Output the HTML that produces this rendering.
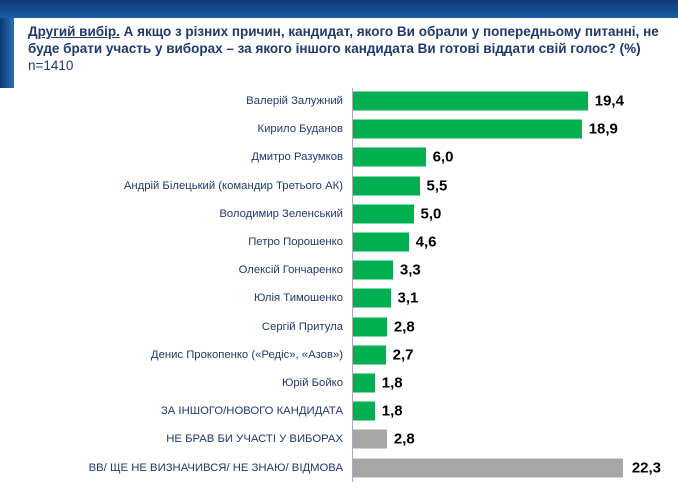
<html><head><style>
body{margin:0;width:678px;height:488px;background:#fff;overflow:hidden;position:relative;font-family:"Liberation Sans",sans-serif}
.top{position:absolute;left:0;top:0;width:678px;height:18px;background:linear-gradient(#0b3a73,#1a5da6)}
.side{position:absolute;left:0;top:18px;width:14px;height:70px;background:linear-gradient(90deg,#0b3a73,#2a6fb8)}
.t{position:absolute;left:28px;top:23px;font-size:13.5px;font-weight:bold;color:#1f3a6a;line-height:17px;width:645px}
.n{font-weight:normal}
.ax{position:absolute;left:352px;top:88px;width:1px;height:394px;background:#aab}
.lb{position:absolute;right:335px;font-size:11.3px;color:#1f3a6a;white-space:nowrap;transform:translateY(-50%)}
.b{position:absolute;left:353px;height:19px;transform:translateY(-50%)}
.v{position:absolute;font-size:15px;font-weight:bold;color:#000;transform:translateY(-50%)}
</style></head><body>
<div class="top"></div><div class="side"></div>
<div class="t"><u>Другий вибір.</u> А якщо з різних причин, кандидат, якого Ви обрали у попередньому питанні, не буде брати участь у виборах – за якого іншого кандидата Ви готові віддати свій голос? (%)<br><span class="n">n=1410</span></div>
<div class="ax"></div>
<div id="c"></div>
<script>
var d=[["Валерій Залужний",19.4,0],["Кирило Буданов",18.9,0],["Дмитро Разумков",6.0,0],["Андрій Білецький (командир Третього АК)",5.5,0],["Володимир Зеленський",5.0,0],["Петро Порошенко",4.6,0],["Олексій Гончаренко",3.3,0],["Юлія Тимошенко",3.1,0],["Сергій Притула",2.8,0],["Денис Прокопенко («Редіс», «Азов»)",2.7,0],["Юрій Бойко",1.8,0],["ЗА ІНШОГО/НОВОГО КАНДИДАТА",1.8,0],["НЕ БРАВ БИ УЧАСТІ У ВИБОРАХ",2.8,1],["ВВ/ ЩЕ НЕ ВИЗНАЧИВСЯ/ НЕ ЗНАЮ/ ВІДМОВА",22.3,1]];
var h="";d.forEach(function(r,i){var y=101+i*28.2,w=r[1]*12.1;
h+='<div class="lb" style="top:'+y+'px">'+r[0]+'</div><div class="b" style="top:'+y+'px;width:'+w+'px;background:'+(r[2]?'#a6a6a6':'#00b050')+'"></div><div class="v" style="top:'+y+'px;left:'+(353+w+(r[1]>20?9:7))+'px">'+r[1].toFixed(1).replace('.',',')+'</div>';});
document.getElementById('c').innerHTML=h;
</script>
</body></html>
